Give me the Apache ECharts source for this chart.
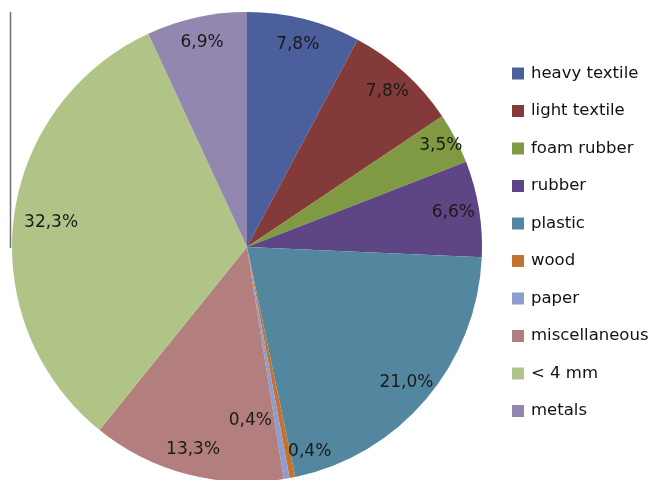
<!DOCTYPE html>
<html>
<head>
<meta charset="utf-8">
<script src="https://cdn.jsdelivr.net/npm/echarts@6/dist/echarts.min.js"></script>
<style>
  html, body { margin: 0; padding: 0; background: #ffffff; }
  #chart { width: 656px; height: 480px; }
</style>
</head>
<body>
<div id="chart"></div>
<script>
// Waste composition shares (%)
const categories = ['heavy textile', 'light textile', 'foam rubber', 'rubber', 'plastic',
                    'wood', 'paper', 'miscellaneous', '< 4 mm', 'metals'];
const shares = [7.8, 7.8, 3.5, 6.6, 21.0, 0.4, 0.4, 13.3, 32.3, 6.9];

const colors = ['#4A5F9B', '#853A3A', '#7F9A42', '#5D4683', '#53869F',
                '#C3732D', '#8D9DCF', '#B37F7E', '#B0C487', '#9487AF'];

// Pie geometry (pixels)
const CX = 247, CY = 247, R = 235;

// Radial placement of each value label (fraction of radius) and small sideways nudges
const labelPlacement = {
  'foam rubber': { radius: 0.93 },
  '< 4 mm': { radius: 0.84 },
  'wood': { radius: 0.895, shiftX: 22, shiftY: -2 },
  'paper': { radius: 0.74, shiftX: -26, shiftY: 2 }
};

const chart = echarts.init(document.getElementById('chart'), null, { renderer: 'canvas' });

chart.setOption({
  animation: false,
  backgroundColor: '#ffffff',
  color: colors,
  legend: {
    orient: 'vertical',
    left: 512,
    top: 65,
    padding: 0,
    icon: 'rect',
    itemWidth: 12,
    itemHeight: 12,
    itemGap: 20.5,
    selectedMode: false,
    data: categories,
    textStyle: {
      fontFamily: 'DejaVu Sans',
      fontSize: 16.5,
      lineHeight: 16,
      color: '#111111',
      padding: [0, 0, 0, 2]
    }
  },
  graphic: [{
    type: 'line',
    shape: { x1: CX - R - 1.5, y1: CY - R, x2: CX - R - 1.5, y2: CY + 1 },
    style: { stroke: '#6f6f6f', lineWidth: 1.5 },
    z: 10
  }],
  series: [{
    type: 'pie',
    center: [CX, CY],
    radius: [0, R],
    startAngle: 90,
    clockwise: true,
    avoidLabelOverlap: false,
    silent: true,
    itemStyle: { borderWidth: 0 },
    label: {
      show: true,
      position: 'inside',
      rotate: 0,
      fontFamily: 'DejaVu Sans',
      fontSize: 17,
      color: '#1a1a1a',
      formatter: function (p) {
        return p.value.toFixed(1).replace('.', ',') + '%';
      }
    },
    labelLine: { show: false },
    labelLayout: function (p) {
      const lr = p.labelRect;
      const lx = lr.x + lr.width / 2;
      const ly = lr.y + lr.height / 2;
      const vx = lx - CX, vy = ly - CY;
      const d = Math.hypot(vx, vy) || 1;
      const t = labelPlacement[categories[p.dataIndex]] || {};
      const k = (t.radius || 0.89) * R / d;
      return {
        x: CX + vx * k + (t.shiftX || 0),
        y: CY + vy * k + (t.shiftY || 0),
        align: 'center',
        verticalAlign: 'middle'
      };
    },
    data: categories.map(function (name, i) {
      return { name: name, value: shares[i] };
    })
  }]
});
</script>
</body>
</html>
